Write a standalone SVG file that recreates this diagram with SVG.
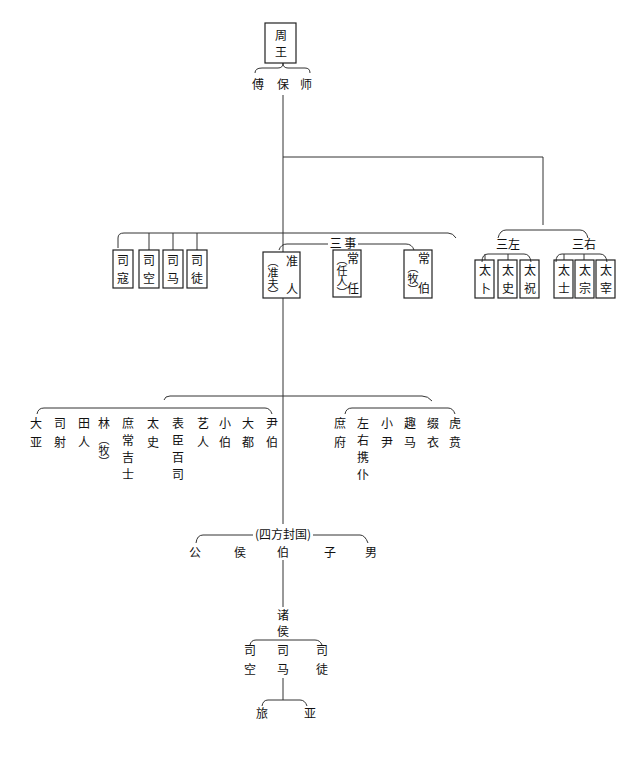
<svg xmlns="http://www.w3.org/2000/svg" width="640" height="765" viewBox="0 0 640 765">
<style>
text{font-family:"Noto Sans CJK SC","Noto Sans CJK JP",sans-serif;font-size:12px;fill:#111;text-anchor:middle}
.v{writing-mode:vertical-rl;text-anchor:start;font-size:11px}
rect.b{fill:none;stroke:#222;stroke-width:1.2}
path,line{fill:none;stroke:#333;stroke-width:1}
</style>
<rect width="640" height="765" fill="#fff"/>
<g id="connectors">
<path d="M255,73 Q255,68 262,68 L278,68 Q283,68 283,63 Q283,68 288,68 L305,68 Q310,68 310,73"/>
<line x1="283" y1="95" x2="283" y2="252"/>
<line x1="283" y1="298" x2="283" y2="524"/>
<path d="M283,157 L543,157 L543,225"/>
<path d="M118,248 L118,238 Q118,233 124,233 L448,233 Q453,233 456,238"/>
<line x1="149" y1="233" x2="149" y2="250"/><line x1="173" y1="233" x2="173" y2="250"/><line x1="197" y1="233" x2="197" y2="250"/>
<path d="M279,250 Q281,244 287,244 L328,244 M358,244 L406,244 Q412,244 414,250"/>
<path d="M498,238 Q500,230 506,230 L580,230 Q586,230 588,238"/>
<path d="M482,262 Q482,254 488,254 L524,254 Q530,254 531,262 M508,254 L508,260 M485,254 L485,260"/>
<path d="M556,262 Q556,254 562,254 L600,254 Q606,254 607,262 M584,254 L584,260 M564,254 L564,260"/>
<path d="M164,400 Q165,396 170,396 L422,396 Q428,396 432,401"/>
<path d="M37,414 Q38,408 44,408 L265,408 Q270,408 272,414"/>
<path d="M345,414 Q346,408 352,408 L448,408 Q453,408 455,414"/>
<path d="M196,543 Q197,535 203,535 L253,535 M313,535 L360,535 Q365,535 368,543"/>
<line x1="283" y1="560" x2="283" y2="607"/>
<path d="M250,645 Q251,640 256,640 L315,640 Q320,640 322,645"/>
<line x1="283" y1="678" x2="283" y2="700"/>
<path d="M262,706 Q263,700 268,700 L300,700 Q305,700 307,706"/>
</g>
<g id="zhouwang"><rect class="b" x="265" y="23" width="31" height="40"/><text x="281" y="40">周</text><text x="281" y="57">王</text></g>
<g id="fubaoshi"><text x="258" y="89">傅</text><text x="283" y="89">保</text><text x="306" y="89">师</text></g>
<g id="sikou"><rect class="b" x="113" y="250" width="20" height="38"/><text x="123" y="265">司</text><text x="123" y="283">寇</text></g>
<g id="sikong"><rect class="b" x="139" y="250" width="20" height="38"/><text x="149" y="265">司</text><text x="149" y="283">空</text></g>
<g id="sima"><rect class="b" x="163" y="250" width="20" height="38"/><text x="173" y="265">司</text><text x="173" y="283">马</text></g>
<g id="situ"><rect class="b" x="187" y="250" width="20" height="38"/><text x="197" y="265">司</text><text x="197" y="283">徒</text></g>
<g id="sanshi"><text x="343" y="248">三  事</text></g>
<g id="zhunren"><rect class="b" x="263" y="252" width="37" height="46"/><text x="292" y="266">准</text><text x="292" y="294">人</text><text class="v" x="273" y="256">（准夫）</text></g>
<g id="changren"><rect class="b" x="333" y="250" width="28" height="47"/><text x="353" y="263">常</text><text x="353" y="293">任</text><text class="v" x="342" y="254">（任人）</text></g>
<g id="changbo"><rect class="b" x="404" y="250" width="28" height="48"/><text x="424" y="263">常</text><text x="424" y="293">伯</text><text class="v" x="413" y="262">（牧）</text></g>
<g id="sanzuo"><text x="508" y="249">三左</text></g>
<g id="sanyou"><text x="584" y="249">三右</text></g>
<g id="taibu"><rect class="b" x="475" y="260" width="19" height="38"/><text x="485" y="275">太</text><text x="485" y="293">卜</text></g>
<g id="taishi"><rect class="b" x="498" y="260" width="19" height="38"/><text x="508" y="275">太</text><text x="508" y="293">史</text></g>
<g id="taizhu"><rect class="b" x="520" y="260" width="19" height="38"/><text x="530" y="275">太</text><text x="530" y="293">祝</text></g>
<g id="taishi2"><rect class="b" x="554" y="260" width="19" height="38"/><text x="564" y="275">太</text><text x="564" y="293">士</text></g>
<g id="taizong"><rect class="b" x="575" y="260" width="19" height="38"/><text x="585" y="275">太</text><text x="585" y="293">宗</text></g>
<g id="taizai"><rect class="b" x="596" y="260" width="19" height="38"/><text x="606" y="275">太</text><text x="606" y="293">宰</text></g>
<g id="officials">
<text x="36" y="428">大</text><text x="36" y="447">亚</text>
<text x="60" y="428">司</text><text x="60" y="447">射</text>
<text x="84" y="428">田</text><text x="84" y="447">人</text>
<text x="104" y="428">林</text><text class="v" x="104" y="434">（牧）</text>
<text x="128" y="428">庶</text><text x="128" y="445">常</text><text x="128" y="462">吉</text><text x="128" y="479">士</text>
<text x="153" y="428">太</text><text x="153" y="447">史</text>
<text x="178" y="428">表</text><text x="178" y="445">臣</text><text x="178" y="462">百</text><text x="178" y="479">司</text>
<text x="203" y="428">艺</text><text x="203" y="447">人</text>
<text x="225" y="428">小</text><text x="225" y="447">伯</text>
<text x="248" y="428">大</text><text x="248" y="447">都</text>
<text x="272" y="428">尹</text><text x="272" y="447">伯</text>
<text x="340" y="428">庶</text><text x="340" y="447">府</text>
<text x="363" y="428">左</text><text x="363" y="445">右</text><text x="363" y="462">携</text><text x="363" y="479">仆</text>
<text x="387" y="428">小</text><text x="387" y="447">尹</text>
<text x="410" y="428">趣</text><text x="410" y="447">马</text>
<text x="433" y="428">缀</text><text x="433" y="447">衣</text>
<text x="455" y="428">虎</text><text x="455" y="447">贲</text>
</g>
<g id="sifang"><text x="283" y="539">(四方封国)</text></g>
<g id="ranks"><text x="195" y="557">公</text><text x="240" y="557">侯</text><text x="283" y="557">伯</text><text x="330" y="557">子</text><text x="371" y="557">男</text></g>
<g id="zhuhou"><text x="283" y="620">诸</text><text x="283" y="636">侯</text></g>
<g id="zhuhou-officials"><text x="250" y="655">司</text><text x="250" y="674">空</text><text x="283" y="655">司</text><text x="283" y="674">马</text><text x="322" y="655">司</text><text x="322" y="674">徒</text></g>
<g id="lvya"><text x="262" y="718">旅</text><text x="310" y="718">亚</text></g>
</svg>
